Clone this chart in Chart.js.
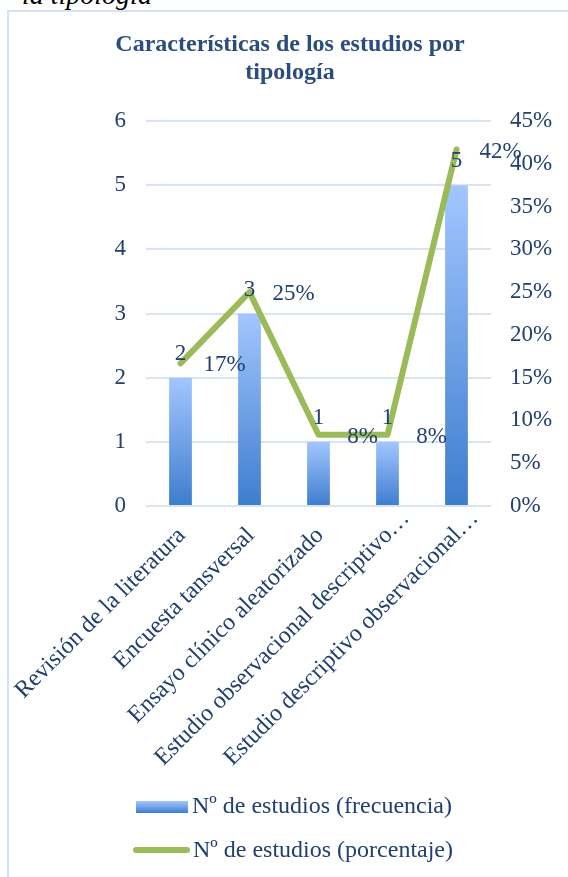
<!DOCTYPE html>
<html><head><meta charset="utf-8">
<script src="https://cdn.jsdelivr.net/npm/chart.js@4/dist/chart.umd.min.js"></script>
<style>
html,body{margin:0;padding:0;background:#fff;overflow:hidden;}
#wrap{position:relative;width:568px;height:877px;}
#cap{position:absolute;left:22px;top:-19px;font:italic 28px "Liberation Serif",serif;color:#000;white-space:nowrap;line-height:28px;}
#box{position:absolute;left:7px;top:10px;width:620px;height:900px;border:2px solid #D6E3F5;box-sizing:border-box;}
canvas{position:absolute;left:0;top:0;}
</style></head><body>
<div id="wrap">
<div id="cap">la tipología</div>
<div id="box"></div>
<canvas id="c" width="568" height="877"></canvas>
</div>
<script>
const categories = ['Revisión de la literatura','Encuesta tansversal','Ensayo clínico aleatorizado','Estudio observacional descriptivo…','Estudio descriptivo observacional…'];
const frecuencia = [2, 3, 1, 1, 5];
const porcentaje = [16.67, 25, 8.33, 8.33, 41.67];
const porcentajeLabels = ['17%', '25%', '8%', '8%', '42%'];
const titleLines = ['Características de los estudios por', 'tipología'];
const seriesNames = ['Nº de estudios (frecuencia)', 'Nº de estudios (porcentaje)'];

const NAVY = '#22406F';
const FONT = '"Liberation Serif", "Times New Roman", serif';
const GREEN = '#9BBB59';
const BAR_TOP = '#A3C6FF', BAR_BOT = '#3D7DCE';

const labelPlugin = {
  id: 'labels',
  afterDatasetsDraw(chart) {
    const ctx = chart.ctx;
    ctx.save();
    ctx.font = '23px ' + FONT;
    ctx.fillStyle = NAVY;
    ctx.textAlign = 'center';
    ctx.textBaseline = 'middle';
    const barMeta = chart.getDatasetMeta(1);
    barMeta.data.forEach((el, i) => {
      ctx.fillText(String(frecuencia[i]), el.x, el.y - 24);
    });
    const lineMeta = chart.getDatasetMeta(0);
    lineMeta.data.forEach((el, i) => {
      ctx.fillText(porcentajeLabels[i], el.x + 44, el.y + 2);
    });
    ctx.restore();
  },
  afterDraw(chart) {
    const ctx = chart.ctx;
    // category axis labels (rotated 45°), positioned from the x scale
    const xs = chart.scales.x;
    ctx.save();
    ctx.font = '24px ' + FONT;
    ctx.fillStyle = NAVY;
    ctx.textAlign = 'right';
    ctx.textBaseline = 'middle';
    chart.data.labels.forEach((lab, i) => {
      const px = xs.getPixelForValue(i);
      const truncated = lab.endsWith('…');
      ctx.save();
      ctx.translate(px, xs.top + 16);
      ctx.rotate(-Math.PI / 4);
      ctx.fillText(lab, truncated ? 18 : -6, 8);
      ctx.restore();
    });
    ctx.restore();

    // legend
    ctx.save();
    ctx.font = '24px ' + FONT;
    ctx.fillStyle = NAVY;
    ctx.textAlign = 'left';
    ctx.textBaseline = 'middle';
    const g = ctx.createLinearGradient(0, 801, 0, 813);
    g.addColorStop(0, BAR_TOP); g.addColorStop(1, BAR_BOT);
    ctx.fillStyle = g;
    ctx.fillRect(136, 801, 52, 12);
    ctx.fillStyle = NAVY;
    ctx.fillText(chart.data.datasets[1].label, 192, 807);
    ctx.strokeStyle = GREEN; ctx.lineWidth = 6; ctx.lineCap = 'round';
    ctx.beginPath(); ctx.moveTo(136, 850); ctx.lineTo(187, 850); ctx.stroke();
    ctx.fillText(chart.data.datasets[0].label, 193, 851);
    ctx.restore();
  }
};

new Chart(document.getElementById('c'), {
  data: {
    labels: categories,
    datasets: [
      {
        type: 'line', label: seriesNames[1], data: porcentaje, yAxisID: 'y1', order: 0,
        borderColor: GREEN, borderWidth: 6, pointRadius: 0, tension: 0,
        borderCapStyle: 'round', borderJoinStyle: 'round', fill: false
      },
      {
        type: 'bar', label: seriesNames[0], data: frecuencia, yAxisID: 'y', order: 1,
        barPercentage: 0.33, categoryPercentage: 1,
        backgroundColor: (c) => {
          const chart = c.chart;
          if (!chart.chartArea || c.type !== 'data') return '#6A9FE8';
          const y = chart.scales.y;
          const top = y.getPixelForValue(c.raw), bot = y.getPixelForValue(0);
          const g = chart.ctx.createLinearGradient(0, top, 0, bot);
          g.addColorStop(0, BAR_TOP); g.addColorStop(1, BAR_BOT);
          return g;
        }
      }
    ]
  },
  options: {
    responsive: false, animation: false, devicePixelRatio: 1,
    layout: { padding: { left: 12, right: 0, top: 0, bottom: 60 } },
    plugins: {
      legend: { display: false },
      tooltip: { enabled: false },
      title: {
        display: true, text: titleLines, color: '#2B4C7E',
        font: { family: FONT, size: 24, weight: 'bold', lineHeight: 28 / 24 },
        padding: { top: 31, bottom: 34 }
      }
    },
    scales: {
      x: {
        grid: { display: false }, border: { display: false },
        ticks: { display: false, autoSkip: false },
        afterFit: (s) => { s.height = 311; s.paddingLeft = 0; s.paddingRight = 0; }
      },
      y: {
        position: 'left', min: 0, max: 6,
        ticks: { stepSize: 1, color: NAVY, font: { family: FONT, size: 23 }, padding: 20 },
        grid: { color: '#D9E4F3', lineWidth: 2, drawTicks: false }, border: { display: false },
        afterFit: (s) => { s.width = 134; }
      },
      y1: {
        position: 'right', min: 0, max: 45,
        ticks: { stepSize: 5, color: NAVY, font: { family: FONT, size: 23 }, padding: 19, callback: (v) => v + '%' },
        grid: { display: false, drawTicks: false }, border: { display: false },
        afterFit: (s) => { s.width = 77; }
      }
    }
  },
  plugins: [labelPlugin]
});
</script>
</body></html>
